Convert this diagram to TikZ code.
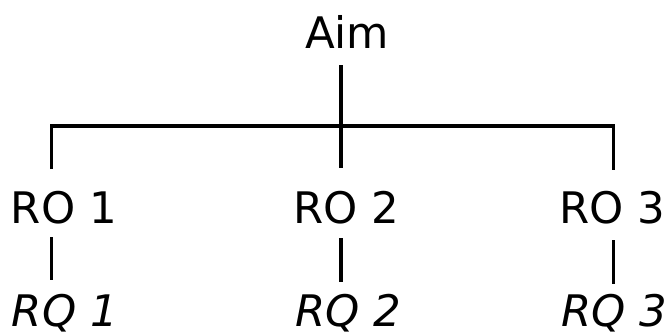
\documentclass[tikz,border=0pt]{standalone}
\usepackage{fontspec}
\setmainfont{DejaVu Sans}
\begin{document}
\begin{tikzpicture}[x=0.75pt,y=-0.75pt,
  lbl/.style={anchor=base west,inner sep=0pt,outer sep=0pt,font=\fontsize{32.6}{38}\selectfont},
  qlbl/.style={lbl,font=\fontsize{32.6}{38}\selectfont\itshape},
  conn/.style={line width=2.6pt,line cap=butt}]
\useasboundingbox (0,0) rectangle (671,332);
\clip (0,0) rectangle (671,332);
% text nodes
\node[lbl] (aim) at (305,48) {Aim};
\node[lbl] (ro1) at (11,223.5) {RO 1};
\node[lbl] (ro2) at (293,223.5) {RO 2};
\node[lbl] (ro3) at (559,223.5) {RO 3};
\node[qlbl] (rq1) at (12,326) {RQ 1};
\node[qlbl] (rq2) at (295,326) {RQ 2};
\node[qlbl] (rq3) at (561,326) {RQ 3};
% connector end points
\coordinate (aimb) at (341,65);
\coordinate (hj) at (341,126);
\coordinate (hl) at (51.5,126);
\coordinate (hr) at (613.5,126);
\coordinate (ro1t) at (51.5,169);
\coordinate (ro2t) at (341,168);
\coordinate (ro3t) at (613.5,170);
\coordinate (ro1b) at (51.5,237);
\coordinate (ro2b) at (341,238);
\coordinate (ro3b) at (613.5,240);
\coordinate (rq1t) at (51.5,280);
\coordinate (rq2t) at (341,282);
\coordinate (rq3t) at (613.5,284);
% connectors
\draw[conn] (aimb) -- (hj) -- (ro2t);
\draw[conn,line join=miter] (ro1t) -- (hl) -- (hr) -- (ro3t);
\draw[conn] (ro1b) -- (rq1t);
\draw[conn] (ro2b) -- (rq2t);
\draw[conn] (ro3b) -- (rq3t);
\end{tikzpicture}
\end{document}
